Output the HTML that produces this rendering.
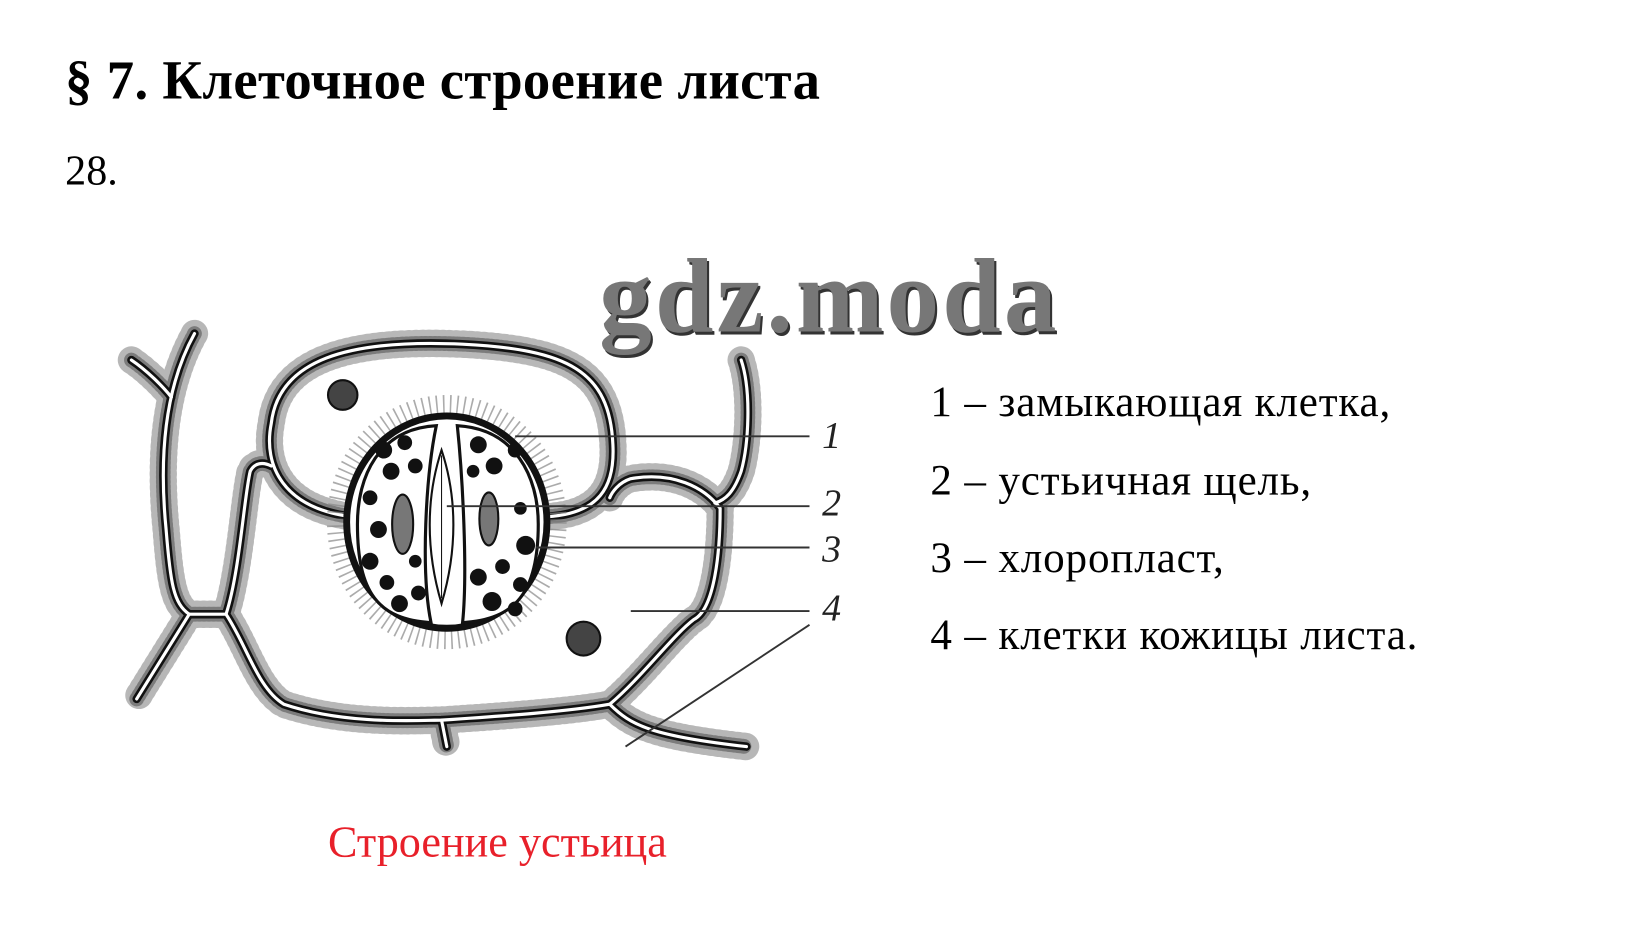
<!DOCTYPE html>
<html><head><meta charset="utf-8"><style>
html,body{margin:0;padding:0;background:#fff;width:1640px;height:934px;overflow:hidden}
#w{position:absolute;left:0;top:0;width:1560px;height:882px;transform-origin:0 0;transform:scale(1.0513,1.059)}
.t{position:absolute;font-family:"Liberation Serif",serif;white-space:nowrap}
</style></head><body><div id="w">
<div class="t" style="left:62px;top:47px;font-size:52px;font-weight:bold;letter-spacing:0.3px">§ 7. Клеточное строение листа</div>
<div class="t" style="left:62px;top:137px;font-size:40px">28.</div>
<div class="t" style="left:570px;top:222px;font-size:100px;font-weight:bold;color:#777;letter-spacing:3px;text-shadow:2px 3px 0 #333">gdz.moda</div>
<div class="t" style="left:885px;top:355px;font-size:41px;letter-spacing:0.8px">1 – замыкающая клетка,</div>
<div class="t" style="left:885px;top:429px;font-size:41px;letter-spacing:0.8px">2 – устьичная щель,</div>
<div class="t" style="left:885px;top:502px;font-size:41px;letter-spacing:0.8px">3 – хлоропласт,</div>
<div class="t" style="left:885px;top:575px;font-size:41px;letter-spacing:0.8px">4 – клетки кожицы листа.</div>
<div class="t" style="left:312px;top:772px;font-size:42px;color:#e8202a">Строение устьица</div>
<svg width="1560" height="882" style="position:absolute;left:0;top:0">
<defs>
<g id="walls">
<path d="M335,488 C270,480 250,440 258,400 C265,340 330,320 440,325 C540,330 580,350 583,420 C585,460 570,485 520,488"/>
<path d="M185,315 C160,360 150,420 158,500 C162,550 165,570 180,580 L130,660"/>
<path d="M125,340 C140,350 155,365 163,375"/>
<path d="M180,580 L215,580 C228,540 232,470 238,445 C242,437 250,436 258,440"/>
<path d="M215,580 C235,610 245,650 270,665 C330,685 400,680 420,680 C480,676 540,672 580,665 C610,640 640,600 660,585 C680,575 685,520 685,480 C670,460 640,445 600,452 C588,456 582,465 580,470"/>
<path d="M705,340 C715,370 712,420 705,445 C698,465 690,472 680,475"/>
<path d="M420,680 L425,705"/>
<path d="M580,665 C600,685 620,695 710,705"/>
</g>
</defs>
<g fill="none" stroke-linecap="round" stroke-linejoin="round">
<use href="#walls" stroke="#888" stroke-width="26" stroke-dasharray="1.5 5" opacity="0.6"/>
<use href="#walls" stroke="#555" stroke-width="14" stroke-dasharray="1.5 3" opacity="0.6"/>
<use href="#walls" stroke="#111" stroke-width="8"/>
<use href="#walls" stroke="#fff" stroke-width="3"/>
</g>
<ellipse cx="425" cy="493" rx="104" ry="110" fill="none" stroke="#888" stroke-width="20" stroke-dasharray="1.5 5" opacity="0.7"/>
<ellipse cx="425" cy="493" rx="95" ry="100" fill="#fff" stroke="#111" stroke-width="7"/>
<ellipse cx="425" cy="493" rx="91" ry="96" fill="none" stroke="#fff" stroke-width="2"/>
<path d="M415,402 C360,405 340,450 340,495 C340,560 360,585 410,588 C400,540 405,450 415,402Z" fill="#fff" stroke="#111" stroke-width="3"/>
<path d="M435,402 C490,405 512,450 512,495 C512,560 490,585 440,588 C445,540 440,450 435,402Z" fill="#fff" stroke="#111" stroke-width="3"/>
<path d="M420,425 C405,470 405,520 420,570 C435,520 435,470 420,425Z" fill="#fff" stroke="#111" stroke-width="2"/>
<line x1="420" y1="430" x2="420" y2="565" stroke="#111" stroke-width="1"/>
<g fill="#111">
<circle cx="365" cy="425" r="8"/><circle cx="385" cy="418" r="7"/><circle cx="372" cy="445" r="8"/><circle cx="395" cy="440" r="7"/>
<circle cx="352" cy="470" r="7"/><circle cx="360" cy="500" r="8"/><circle cx="352" cy="530" r="8"/><circle cx="368" cy="550" r="7"/>
<circle cx="380" cy="570" r="8"/><circle cx="398" cy="560" r="7"/><circle cx="395" cy="530" r="6"/>
<circle cx="455" cy="420" r="8"/><circle cx="470" cy="440" r="8"/><circle cx="490" cy="425" r="7"/><circle cx="450" cy="445" r="6"/>
<circle cx="495" cy="480" r="6"/><circle cx="500" cy="515" r="9"/><circle cx="478" cy="535" r="7"/><circle cx="455" cy="545" r="8"/>
<circle cx="468" cy="568" r="9"/><circle cx="495" cy="552" r="7"/><circle cx="490" cy="575" r="7"/>
</g>
<ellipse cx="383" cy="495" rx="10" ry="28" fill="#777" stroke="#111" stroke-width="2"/>
<ellipse cx="465" cy="490" rx="9" ry="25" fill="#777" stroke="#111" stroke-width="2"/>
<circle cx="326" cy="373" r="14" fill="#444" stroke="#111" stroke-width="2"/>
<circle cx="555" cy="603" r="16" fill="#444" stroke="#111" stroke-width="2"/>
<g stroke="#333" stroke-width="1.8">
<line x1="490" y1="412" x2="770" y2="412"/>
<line x1="425" y1="478" x2="770" y2="478"/>
<line x1="510" y1="517" x2="770" y2="517"/>
<line x1="600" y1="577" x2="770" y2="577"/>
<line x1="770" y1="590" x2="595" y2="705"/>
</g>
<g font-family="Liberation Serif,serif" font-style="italic" font-size="36" fill="#222">
<text x="782" y="423">1</text><text x="782" y="487">2</text><text x="782" y="530">3</text><text x="782" y="586">4</text>
</g>
</svg>
</div></body></html>
